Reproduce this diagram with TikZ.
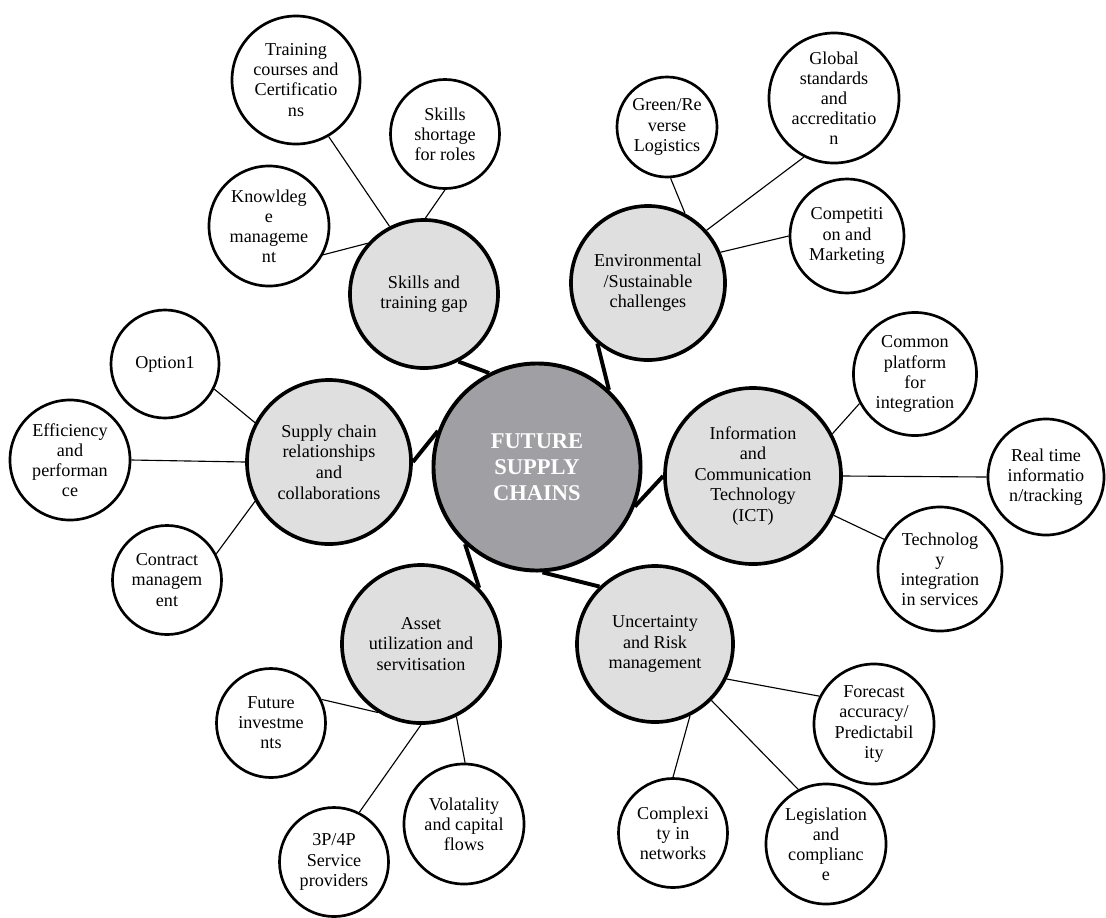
\documentclass[tikz,border=0pt]{standalone}
\usepackage{fontspec}
\setmainfont{Liberation Serif}
\usepackage{tikz}
\definecolor{hubgray}{RGB}{160,159,164}
\definecolor{topicgray}{RGB}{223,223,223}

\begin{document}
\begin{tikzpicture}[x=0.025cm,y=0.025cm,
  hub/.style={circle,draw,line width=2.8pt,fill=hubgray,text=white,align=center,font=\bfseries\fontsize{16}{18.5}\selectfont},
  topic/.style={circle,draw,line width=2.6pt,fill=topicgray,align=center,font=\fontsize{12.9}{14.6}\selectfont},
  leaf/.style={circle,draw,line width=1.9pt,fill=white,align=center,font=\fontsize{12.9}{14.3}\selectfont},
  twig/.style={line width=0.8pt},
  branch/.style={line width=2.8pt}]
\tikzstyle{every node}+=[inner sep=0pt]
\useasboundingbox (0,0) rectangle (1106,-917);
% centre and the six topics
\node [hub, minimum size=5.175cm] (future) at (537,-467) {FUTURE\\SUPPLY\\CHAINS};
\node [topic, minimum size=3.7cm] (skills) at (424,-294) {Skills and\\training gap};
\node [topic, minimum size=3.85cm] (env) at (648,-283) {Environmental\\/Sustainable\\challenges};
\node [topic, minimum size=4.1cm] (supply) at (329,-462) {Supply chain\\relationships\\and\\collaborations};
\node [topic, minimum size=4.4cm] (ict) at (753,-476) {Information\\and\\Communication\\Technology\\(ICT)};
\node [topic, minimum size=3.9cm] (risk) at (655,-644) {Uncertainty\\and Risk\\management};
\node [topic, minimum size=3.95cm] (asset) at (421,-644) {Asset\\utilization and\\servitisation};
% leaves
\node [leaf, minimum size=3.2cm] (training) at (296,-80) {Training\\courses and\\Certificatio\\ns};
\node [leaf, minimum size=2.725cm] (shortage) at (445,-134) {Skills\\shortage\\for roles};
\node [leaf, minimum size=3cm] (knowledge) at (269,-226) {Knowldeg\\e\\manageme\\nt};
\node [leaf, minimum size=2.5cm] (green) at (667,-127) {Green/Re\\verse\\Logistics};
\node [leaf, minimum size=3.25cm] (global) at (834,-98) {Global\\standards\\and\\accreditatio\\n};
\node [leaf, minimum size=2.85cm] (compet) at (847,-236) {Competiti\\on and\\Marketing};
\node [leaf, minimum size=2.7cm] (option) at (165,-364) {Option1};
\node [leaf, minimum size=3cm] (effic) at (70,-460) {Efficiency\\and\\performan\\ce};
\node [leaf, minimum size=2.725cm] (contract) at (167,-580) {Contract\\managem\\ent};
\node [leaf, minimum size=3.075cm] (platform) at (915,-374) {Common\\platform\\for\\integration};
\node [leaf, minimum size=2.9cm] (realtime) at (1046,-477) {Real time\\informatio\\n/tracking};
\node [leaf, minimum size=3.1cm] (techint) at (940,-569) {Technolog\\y\\integration\\in services};
\node [leaf, minimum size=3cm] (forecast) at (874,-724) {Forecast\\accuracy/\\Predictabil\\ity};
\node [leaf, minimum size=3cm] (legis) at (826,-844) {Legislation\\and\\complianc\\e};
\node [leaf, minimum size=2.725cm] (complex) at (673,-833) {Complexi\\ty in\\networks};
\node [leaf, minimum size=2.725cm] (invest) at (271,-723) {Future\\investme\\nts};
\node [leaf, minimum size=2.725cm] (provid) at (334,-862) {3P/4P\\Service\\providers};
\node [leaf, minimum size=3cm] (volat) at (464,-824) {Volatality\\and capital\\flows};
% thick links to the centre
\draw [branch] (skills.-63) -- (future.117);
\draw [branch] (env.230) -- (future.47);
\draw [branch] (supply.0) -- (future.160);
\draw [branch] (ict.180) -- (future.-22);
\draw [branch] (risk.134) -- (future.-87);
\draw [branch] (asset.44) -- (future.-133);
% thin links to the leaves
\draw [twig] (training.-60) -- (skills.117);
\draw [twig] (shortage.-90) -- (skills.89);
\draw [twig] (knowledge.-28) -- (skills.138);
\draw [twig] (green.-86) -- (env.62);
\draw [twig] (global.-117) -- (env.42);
\draw [twig] (compet.180) -- (env.23);
\draw [twig] (option.-27) -- (supply.152);
\draw [twig] (effic.0) -- (supply.180);
\draw [twig] (contract.28) -- (supply.208);
\draw [twig] (platform.208) -- (ict.28);
\draw [twig] (realtime.180) -- (ict.0);
\draw [twig] (techint.152) -- (ict.-26);
\draw [twig] (forecast.153) -- (risk.-26);
\draw [twig] (legis.117) -- (risk.-45);
\draw [twig] (complex.90) -- (risk.-64);
\draw [twig] (invest.25) -- (asset.238);
\draw [twig] (provid.63) -- (asset.-90);
\draw [twig] (volat.89) -- (asset.-64);
\end{tikzpicture}
\end{document}
